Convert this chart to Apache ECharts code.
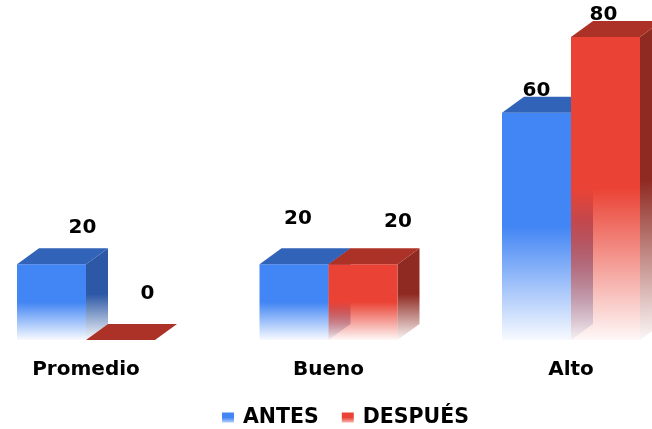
<!DOCTYPE html>
<html>
<head>
<meta charset="utf-8">
<script src="https://cdn.jsdelivr.net/npm/echarts@6/dist/echarts.min.js"></script>
<style>
html,body{margin:0;padding:0;background:#fff;}
#c{width:652px;height:429px;}
</style>
</head>
<body>
<div id="c"></div>
<script>
// ---- data ----
const categories = ['Promedio', 'Bueno', 'Alto'];
const seriesNames = ['ANTES', 'DESPUÉS'];
const antes = [20, 20, 60];
const despues = [0, 20, 80];

// ---- style / layout ----
const labelOffsets = [
  [[31, -36], [4, -45], [0, -22]],
  [[27, -46], [35, -42], [-2, -22]]
];
const BAR_W = 69, DX = 22, DY = -16;
const FONT = '"DejaVu Sans", sans-serif';
const palette = [
  { front: [66, 133, 244], top: '#3163B8', side: [44, 88, 165] },
  { front: [234, 67, 53], top: '#AC3127', side: [143, 42, 34] }
];

function rgba(c, a) { return 'rgba(' + c[0] + ',' + c[1] + ',' + c[2] + ',' + a + ')'; }
function fade(c) {
  return new echarts.graphic.LinearGradient(0, 0, 0, 1, [
    { offset: 0, color: rgba(c, 1) },
    { offset: 0.5, color: rgba(c, 1) },
    { offset: 1, color: rgba(c, 0.04) }
  ]);
}

function makeRender(sIdx) {
  const p = palette[sIdx];
  return function (params, api) {
    const cat = api.value(0), val = api.value(1);
    const top = api.coord([cat, val]);
    const base = api.coord([cat, 0]);
    const x0 = top[0] + (sIdx === 0 ? -BAR_W : 0);
    const x1 = x0 + BAR_W;
    const yT = top[1], yB = base[1];
    const h = yB - yT;
    const children = [];
    if (h > 0) {
      children.push({
        type: 'polygon',
        shape: { points: [[x1, yT], [x1 + DX, yT + DY], [x1 + DX, yB + DY], [x1, yB]] },
        style: { fill: fade(p.side) }
      });
      children.push({
        type: 'rect',
        shape: { x: x0, y: yT, width: BAR_W, height: h },
        style: { fill: fade(p.front) }
      });
    }
    children.push({
      type: 'polygon',
      shape: { points: [[x0, yT], [x0 + DX, yT + DY], [x1 + DX, yT + DY], [x1, yT]] },
      style: { fill: p.top }
    });
    const off = labelOffsets[sIdx][params.dataIndex];
    children.push({
      type: 'text',
      z2: 10,
      style: {
        text: String(val),
        x: (x0 + x1) / 2 + off[0],
        y: yT + off[1],
        align: 'center',
        verticalAlign: 'middle',
        font: 'bold 20px ' + FONT,
        fill: '#000'
      }
    });
    return { type: 'group', children: children };
  };
}

const chart = echarts.init(document.getElementById('c'), null, { renderer: 'canvas' });
const datasets = [antes, despues];
chart.setOption({
  animation: false,
  backgroundColor: '#fff',
  grid: { left: -35.25, right: -40.25, top: 37, bottom: 89, containLabel: false, outerBoundsMode: 'none' },
  legend: {
    left: 222,
    top: 407,
    padding: 0,
    itemWidth: 12,
    itemHeight: 10,
    itemGap: 23,
    icon: 'rect',
    textStyle: { fontFamily: FONT, fontWeight: 'bold', fontSize: 20.5, color: '#000', lineHeight: 21, padding: [0, 0, 0, 4] },
    data: seriesNames
  },
  xAxis: {
    type: 'category',
    data: categories,
    axisLine: { show: false },
    axisTick: { show: false },
    splitLine: { show: false },
    axisLabel: { fontFamily: FONT, fontWeight: 'bold', fontSize: 20, color: '#000', margin: 20 }
  },
  yAxis: { type: 'value', min: 0, max: 80, show: false, splitLine: { show: false } },
  series: datasets.map(function (arr, s) {
    return {
      type: 'custom',
      name: seriesNames[s],
      renderItem: makeRender(s),
      itemStyle: { color: new echarts.graphic.LinearGradient(0, 0, 0, 1, [
        { offset: 0, color: rgba(palette[s].front, 1) },
        { offset: 0.5, color: rgba(palette[s].front, 1) },
        { offset: 1, color: rgba(palette[s].front, 0.4) }
      ]) },
      encode: { x: 0, y: 1 },
      data: arr.map(function (v, i) { return [i, v]; })
    };
  })
});
</script>
</body>
</html>
